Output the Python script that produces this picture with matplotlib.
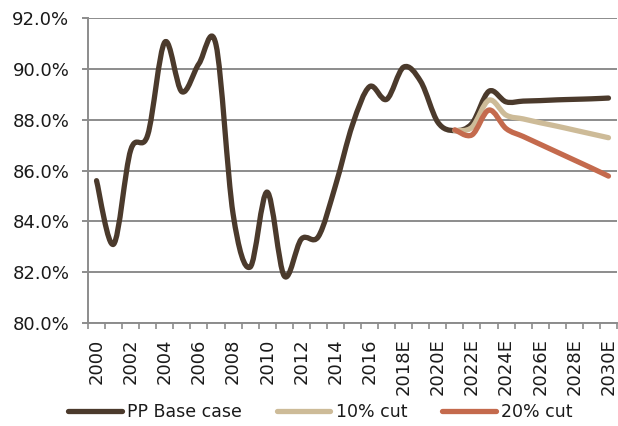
import numpy as np
import matplotlib.pyplot as plt
from matplotlib.path import Path
from matplotlib.patches import PathPatch
from matplotlib.lines import Line2D

plt.rcParams['font.family'] = ['DejaVu Sans']

years = [str(y) for y in range(2000, 2018)] + [f"{y}E" for y in range(2018, 2031)]

base = [85.6, 83.1, 86.8, 87.4, 91.05, 89.1, 90.2, 90.95, 84.3, 82.2,
        85.15, 81.85, 83.3, 83.4, 85.4, 87.8, 89.3, 88.8, 90.07, 89.5,
        87.9, 87.57, 87.85, 89.12, 88.7, 88.73, 88.75, 88.78, 88.8, 88.82, 88.85]
cut10 = [87.57, 87.7, 88.77, 88.18, 88.03, 87.88, 87.74, 87.59, 87.44, 87.29]
cut20 = [87.6, 87.4, 88.38, 87.65, 87.34, 87.03, 86.72, 86.41, 86.1, 85.78]
cut_start = 21  # 2021E

c_base = '#4b3a2c'
c_10 = '#cdbb98'
c_20 = '#c46a4d'
grid_c = '#8c8c8c'
txt_c = '#1a1a1a'


def smooth_path(xs, ys):
    # Catmull-Rom -> cubic bezier, like spreadsheet "smoothed line"
    pts = np.column_stack([xs, ys])
    verts = [pts[0]]
    codes = [Path.MOVETO]
    n = len(pts)
    for i in range(n - 1):
        p0 = pts[max(i - 1, 0)]
        p1 = pts[i]
        p2 = pts[i + 1]
        p3 = pts[min(i + 2, n - 1)]
        c1 = p1 + (p2 - p0) / 6
        c2 = p2 - (p3 - p1) / 6
        verts += [c1, c2, p2]
        codes += [Path.CURVE4] * 3
    return Path(verts, codes)


fig = plt.figure(figsize=(6.18, 4.26), dpi=100)
ax = fig.add_axes([88 / 618, 1 - 323 / 426, 529 / 618, 305 / 426])

lw = 3.8
for xs, ys, c in [(np.arange(len(base)), base, c_base),
                  (np.arange(cut_start, cut_start + len(cut10)), cut10, c_10),
                  (np.arange(cut_start, cut_start + len(cut20)), cut20, c_20)]:
    ax.add_patch(PathPatch(smooth_path(xs, ys), facecolor='none', edgecolor=c,
                           lw=lw, capstyle='round', joinstyle='round'))

ax.set_xlim(-0.5, len(years) - 0.5)
ax.set_ylim(80, 92)
yt = np.arange(80, 92.1, 2)
ax.set_yticks(yt)
ax.set_yticklabels([f"{v:.1f}%" for v in yt], fontsize=13, color=txt_c)
ax.yaxis.grid(True, color=grid_c, lw=1.4)
ax.set_axisbelow(True)
ax.tick_params(axis='y', length=4.5, color=grid_c, width=1.4, pad=9)

ax.set_xticks(np.arange(0, len(years), 2))
ax.set_xticklabels(years[::2], rotation=90, fontsize=13, color=txt_c)
ax.set_xticks(np.arange(-0.5, len(years), 1), minor=True)
ax.tick_params(axis='x', which='major', length=0, pad=11)
ax.tick_params(axis='x', which='minor', length=4, color=grid_c, width=1.2)

for s in ['top', 'right']:
    ax.spines[s].set_visible(False)
for s in ['left', 'bottom']:
    ax.spines[s].set_color(grid_c)
    ax.spines[s].set_linewidth(1.4)

handles = [Line2D([], [], color=c_base, lw=lw, solid_capstyle='round'),
           Line2D([], [], color=c_10, lw=lw, solid_capstyle='round'),
           Line2D([], [], color=c_20, lw=lw, solid_capstyle='round')]
leg = fig.legend(handles, ['PP Base case', '10% cut', '20% cut'], loc='lower left',
                 bbox_to_anchor=(68 / 618, 0.012), ncol=3, frameon=False, fontsize=12.5,
                 handlelength=3.1, handletextpad=0.3, columnspacing=2.0,
                 borderpad=0, borderaxespad=0)
for t in leg.get_texts():
    t.set_color(txt_c)

fig.savefig('out.png', dpi=100)
